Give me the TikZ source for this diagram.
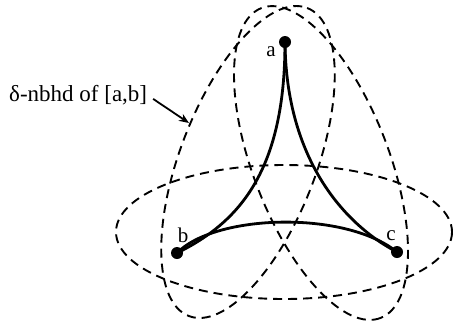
\documentclass[tikz,border=0pt]{standalone}
\usepackage{fontspec}
\setmainfont{Liberation Serif}
\usetikzlibrary{arrows.meta}
\begin{document}
\begin{tikzpicture}[x=1pt,y=-1pt,
  nbhd/.style={line width=1.9pt, dash pattern=on 9pt off 6pt},
  seg/.style={line width=2.8pt, line cap=round},
  pt/.style={circle, fill=black, inner sep=0pt, minimum size=12pt},
  lab/.style={font=\fontsize{21}{25}\selectfont, inner sep=0pt},
  pointer/.style={line width=1.8pt, -{Stealth[length=10pt,width=8pt]}}]
\useasboundingbox (0,0) rectangle (455,322);
% neighbourhoods
\draw[nbhd, rotate around={69:(248,162)}] (248,162) ellipse [x radius=165, y radius=68];
\draw[nbhd, rotate around={-69:(321,163)}] (321,163) ellipse [x radius=166, y radius=68];
\draw[nbhd] (284,232) ellipse [x radius=168, y radius=67];
% vertices
\node[pt] (a) at (285,42) {};
\node[pt] (b) at (177,253) {};
\node[pt] (c) at (397,252) {};
% curved sides
\draw[seg] (a.center) .. controls (285,170) and (240,222) .. (b.center);
\draw[seg] (a.center) .. controls (286,160) and (345,225) .. (c.center);
\draw[seg] (b.center) .. controls (215,214) and (345,210) .. (c.center);
% labels
\node[lab] (la) at (271,52) {a};
\node[lab] (lb) at (183,235) {b};
\node[lab] (lc) at (391,236) {c};
\node[lab, anchor=west, font=\fontsize{23}{27}\selectfont] (delta) at (9,95) {δ-nbhd of [a,b]};
\coordinate (tip) at (189,123);
\draw[pointer, shorten <=7pt] (delta.east) -- (tip);
\end{tikzpicture}
\end{document}
